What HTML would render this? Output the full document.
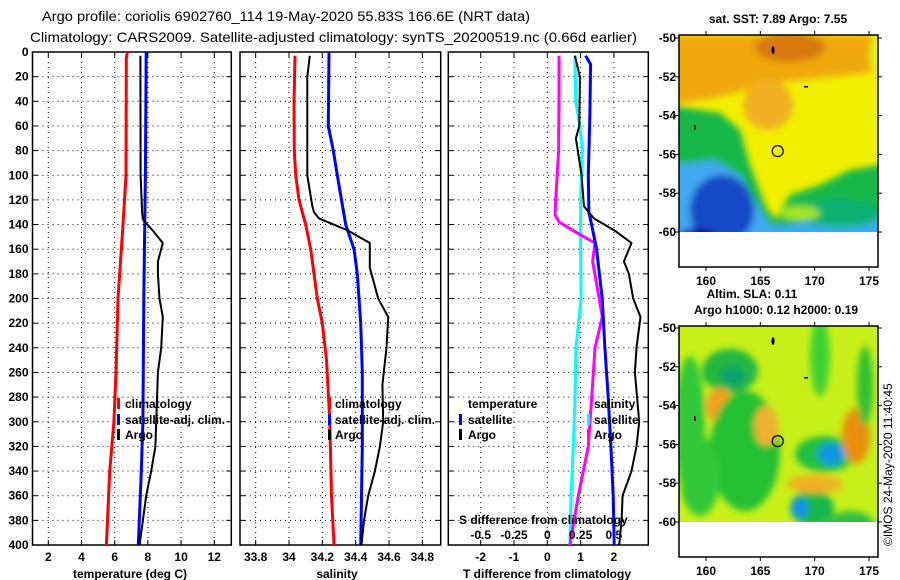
<!DOCTYPE html>
<html><head><meta charset="utf-8">
<style>
html,body{margin:0;padding:0;background:#fff;}
svg{display:block;font-family:"Liberation Sans",sans-serif;}
.tk{font-size:12px;font-weight:bold;fill:#000;}
.lg{font-size:12px;font-weight:bold;fill:#000;}
.tt{font-size:14px;fill:#000;}
</style></head>
<body>
<svg id="c" width="900" height="580" viewBox="0 0 900 580"></svg>
<script>
// ---- data ----
const depthTicks = [0,20,40,60,80,100,120,140,160,180,200,220,240,260,280,300,320,340,360,380,400];
const tempTicks = [2,4,6,8,10,12];
const salTicks = [33.8,34,34.2,34.4,34.6,34.8];
const tdiffTicks = [-2,-1,0,1,2];
const sdiffTicks = [-0.5,-0.25,0,0.25,0.5];
const sdiffTickLabels = ["-0.5","-0.25","0","0.25","0.5"];

const tClimDepth = [0,5,100,140,200,260,300,340,400];
const tClimVal   = [6.76,6.7,6.68,6.5,6.2,6.08,5.95,5.7,5.5];
const tSatDepth  = [0,100,200,300,340,400];
const tSatVal    = [7.9,7.85,7.75,7.7,7.6,7.42];
const tArgoDepth = [3,100,130,136,145,155,170,180,200,215,240,260,300,320,340,360,400];
const tArgoVal   = [7.55,7.56,7.65,7.7,8.3,8.9,8.6,8.6,8.7,8.9,8.8,8.6,8.5,8.45,8.2,7.9,7.5];

const sClimDepth = [3,40,80,100,120,140,160,200,220,250,300,360,400];
const sClimVal   = [34.036,34.03,34.032,34.04,34.06,34.1,34.13,34.17,34.2,34.225,34.245,34.255,34.27];
const sSatDepth  = [0,60,80,100,140,160,180,220,260,320,400];
const sSatVal    = [34.24,34.236,34.266,34.29,34.34,34.39,34.41,34.43,34.44,34.44,34.43];
const sArgoDepth = [3,20,100,125,130,135,145,155,175,200,215,240,270,300,320,340,360,380,400];
const sArgoVal   = [34.125,34.11,34.11,34.14,34.15,34.18,34.356,34.485,34.485,34.535,34.595,34.585,34.56,34.565,34.545,34.515,34.475,34.45,34.435];

const dtSatDepth = [3,10,50,100,130,140,160,200,240,280,320,360,400];
const dtSatVal   = [1.15,1.3,1.28,1.23,1.25,1.33,1.48,1.65,1.73,1.83,1.91,1.98,2.01];
const dtArgoDepth = [3,20,60,70,100,125,135,145,155,170,180,200,215,240,260,300,320,340,360,380,400];
const dtArgoVal   = [0.83,0.98,0.96,0.86,1.03,1.1,1.4,2.03,2.53,2.3,2.45,2.58,2.8,2.68,2.63,2.76,2.68,2.53,2.26,2.23,2.16];
const dsSatDepth = [3,40,60,80,120,160,200,240,280,320,360,400];
const dsSatVal   = [0.208,0.213,0.245,0.263,0.25,0.25,0.253,0.215,0.208,0.195,0.178,0.17];
const dsArgoDepth = [3,40,80,120,132,138,145,155,170,200,215,240,280,300,320,360,400];
const dsArgoVal   = [0.088,0.088,0.085,0.063,0.058,0.09,0.195,0.358,0.34,0.39,0.413,0.358,0.333,0.32,0.308,0.233,0.17];

const latTicks = [-50,-52,-54,-56,-58,-60];
const lonTicks = [160,165,170,175];
const profLon = 166.6, profLat = -55.83;

// ---- helpers ----
const NS="http://www.w3.org/2000/svg";
const svg=document.getElementById('c');
function mk(tag,attrs,parent){const e=document.createElementNS(NS,tag);for(const k in attrs)e.setAttribute(k,attrs[k]);(parent||svg).appendChild(e);return e;}
function txt(s,x,y,cls,anchor,parent){const e=mk('text',{x:x,y:y,class:cls,'text-anchor':anchor||'start'},parent);e.textContent=s;return e;}

const PT=52, PB=545;
const Y=d=>PT+d*(PB-PT)/400;
const XT=t=>48.3+(t-2)*16.6;
const XS=s=>289+(s-34)*166.7;
const XD=v=>547.3+v*33.3;
const XDS=v=>547.3+v*4*33.3;

function panel(name,x0,x1,ticks,xf,labels,showDepth){
  const g=mk('g',{});
  
  
  depthTicks.forEach(d=>{
    if(d>0&&d<400){const l=mk('line',{x1:x0,x2:x1,y1:Y(d),y2:Y(d),stroke:'#000','stroke-width':1,'stroke-dasharray':'1,4'},g);
      }
    mk('line',{x1:x0,x2:x0+5,y1:Y(d),y2:Y(d),stroke:'#000'},g);
    mk('line',{x1:x1-5,x2:x1,y1:Y(d),y2:Y(d),stroke:'#000'},g);
    if(showDepth){const t=txt(String(d),x0-4,Y(d)+4,'tk','end',g);}
  });
  ticks.forEach((v,i)=>{
    const x=xf(v);
    const l=mk('line',{x1:x,x2:x,y1:PT,y2:PB,stroke:'#000','stroke-width':1,'stroke-dasharray':'1,4'},g);
    
    mk('line',{x1:x,x2:x,y1:PB,y2:PB-5,stroke:'#000'},g);
    mk('line',{x1:x,x2:x,y1:PT,y2:PT+5,stroke:'#000'},g);
    const t=txt(labels?labels[i]:String(v),x,561,'tk','middle',g);
    
  });
  const r=mk('rect',{x:x0,y:PT,width:x1-x0,height:PB-PT,fill:'none',stroke:'#000','stroke-width':1.5},g);
  
  return g;
}
function series(name,ds,vs,xf,color,w){
  const pts=ds.map((d,i)=>xf(vs[i]).toFixed(1)+','+Y(d).toFixed(1)).join(' ');
  const p=mk('polyline',{points:pts,fill:'none',stroke:color,'stroke-width':w,'stroke-linejoin':'round'});
  
  
}
function leg(name,mx,tx,y,color,label){
  const g=mk('g',{});
  
  
  if(color)mk('rect',{x:mx,y:y-6,width:3,height:11,fill:color},g);
  txt(label,tx,y+4,'lg','start',g);
}

// titles
let t1=txt('Argo profile: coriolis 6902760_114 19-May-2020 55.83S 166.6E (NRT data)',42,21,'tt');
t1.setAttribute('textLength','488');t1.setAttribute('lengthAdjust','spacingAndGlyphs');

let t2=txt('Climatology: CARS2009. Satellite-adjusted climatology: synTS_20200519.nc (0.66d earlier)',30,42,'tt');
t2.setAttribute('textLength','607');t2.setAttribute('lengthAdjust','spacingAndGlyphs');


// panel 1
panel('temperature-panel',32.5,231.3,tempTicks,XT,null,true);
series('temperature-climatology-line',tClimDepth,tClimVal,XT,'#f00',3);
series('temperature-satellite-line',tSatDepth,tSatVal,XT,'#00f',3);
series('temperature-argo-line',tArgoDepth,tArgoVal,XT,'#000',2);
let a=txt('temperature (deg C)',130,578,'tk','middle');
leg('legend-climatology',117,125,404,'#f00','climatology');
leg('legend-satellite-adj',117,125,420,'#00f','satellite-adj. clim.');
leg('legend-argo',117,125,435,'#000','Argo');

// panel 2
panel('salinity-panel',240,440.7,salTicks,XS,null,false);
series('salinity-climatology-line',sClimDepth,sClimVal,XS,'#f00',3);
series('salinity-satellite-line',sSatDepth,sSatVal,XS,'#00f',3);
series('salinity-argo-line',sArgoDepth,sArgoVal,XS,'#000',2);
a=txt('salinity',337,578,'tk','middle');
leg('legend-climatology-s',328,335,404,'#f00','climatology');
leg('legend-satellite-adj-s',328,335,420,'#00f','satellite-adj. clim.');
leg('legend-argo-s',328,335,435,'#000','Argo');

// panel 3
panel('difference-panel',448.3,648.3,tdiffTicks,XD,null,false);
series('salinity-diff-satellite-line',dsSatDepth,dsSatVal,XDS,'#0ff',3);
series('salinity-diff-argo-line',dsArgoDepth,dsArgoVal,XDS,'#f0f',3);
series('temperature-diff-satellite-line',dtSatDepth,dtSatVal,XD,'#00f',3);
series('temperature-diff-argo-line',dtArgoDepth,dtArgoVal,XD,'#000',2);
a=txt('T difference from climatology',547,578,'tk','middle');
leg('legend-temperature-header',0,468,404,null,'temperature');
leg('legend-t-satellite',459,468,420,'#00f','satellite');
leg('legend-t-argo',459,468,435,'#000','Argo');
leg('legend-salinity-header',0,594,404,null,'salinity');
leg('legend-s-satellite',587,594,420,'#0ff','satellite');
leg('legend-s-argo',587,594,435,'#f0f','Argo');
a=txt('S difference from climatology',459,524,'tk','start');
sdiffTicks.forEach((v,i)=>{const e=txt(sdiffTickLabels[i],XDS(v),539,'tk','middle');
  });

// ---- maps ----
const MX0=679,MX1=878;
const LX=lon=>706+(lon-160)*(163/15);
function map(name,top,dataTop,dataBot,frameBot,blobs,base){
  const LY=lat=>dataTop+(-50-lat)*(dataBot-dataTop)/10;
  const g=mk('g',{});
  
  
  const id='clip'+top;
  const defs=mk('defs',{},g);
  const cp=mk('clipPath',{id:id},defs);
  mk('rect',{x:MX0,y:top,width:MX1-MX0,height:dataBot-top},cp);
  const f=mk('filter',{id:'bl'+top,x:'-50%',y:'-50%',width:'200%',height:'200%'},defs);
  mk('feGaussianBlur',{stdDeviation:3.5},f);
  const cg=mk('g',{'clip-path':'url(#'+id+')'},g);
  mk('rect',{x:MX0,y:top,width:MX1-MX0,height:dataBot-top,fill:base},cg);
  const bg=mk('g',{filter:'url(#bl'+top+')'},cg);
  blobs.forEach(b=>{
    if(b[0]==='e')mk('ellipse',{cx:b[1],cy:top+b[2],rx:b[3],ry:b[4],fill:b[5]},bg);
    else mk('polygon',{points:b[1].map((p,i)=>i%2?p+top:p).join(','),fill:b[2]},bg);
  });
  // islands
  mk('ellipse',{cx:773,cy:top+15,rx:1.5,ry:4,fill:'#000'},cg);
  mk('rect',{x:804,y:top+51,width:4,height:1.5,fill:'#000'},cg);
  mk('rect',{x:694,y:top+90,width:1.5,height:5,fill:'#000'},cg);
  const c=mk('circle',{cx:LX(profLon),cy:LY(profLat),r:5.5,fill:'none',stroke:'#000','stroke-width':1.2},g);
  
  mk('rect',{x:MX0,y:top,width:MX1-MX0,height:frameBot-top,fill:'none',stroke:'#000','stroke-width':1.5},g);
  latTicks.forEach(l=>{
    mk('line',{x1:MX0-4,x2:MX0,y1:LY(l),y2:LY(l),stroke:'#000'},g);
    mk('line',{x1:MX1,x2:MX1+4,y1:LY(l),y2:LY(l),stroke:'#000'},g);
    const e=txt(String(l),MX0-3,LY(l)+4,'tk','end',g);
    
  });
  lonTicks.forEach(l=>{
    mk('line',{x1:LX(l),x2:LX(l),y1:top-4,y2:top,stroke:'#000'},g);
    mk('line',{x1:LX(l),x2:LX(l),y1:frameBot,y2:frameBot+4,stroke:'#000'},g);
    const e=txt(String(l),LX(l),frameBot+18,'tk','middle',g);
    
  });
}
map('sst-map',35,38,232,267,[
  ['p',[670,0,890,0,890,35,850,40,800,45,760,50,720,62,670,70],'#f0a810'],
  ['e',790,12,35,15,'#d87808'],
  ['e',768,70,25,25,'#f0b020'],
  ['e',885,20,15,30,'#e8f010'],
  ['p',[670,70,720,78,740,95,750,130,765,170,775,185,790,160,820,150,850,135,880,130,890,130,890,250,670,250],'#18b848'],
  ['p',[670,130,715,125,740,140,755,165,770,190,790,190,830,180,890,180,890,250,670,250],'#40a8f0'],
  ['p',[770,195,890,190,890,250,770,250],'#30b0e8'],
  ['e',722,175,32,35,'#1848c8'],
  ['e',698,215,28,22,'#0808a0'],
  ['e',840,178,42,14,'#10b070'],
  ['e',800,178,20,7,'#a0e820']
],'#f0f000');
map('sla-map',326,328,522,557,[
  ['e',730,45,28,22,'#20b840'],['e',733,50,12,10,'#10a070'],
  ['e',720,80,14,18,'#f0a020'],
  ['e',745,125,35,60,'#20c030'],['e',700,150,20,40,'#30c838'],
  ['e',766,100,12,20,'#f0b030'],
  ['e',825,128,30,18,'#20c040'],['e',831,128,14,11,'#1098e0'],
  ['e',856,110,14,28,'#e89010'],
  ['e',812,182,22,18,'#18b848'],['e',800,182,8,10,'#1890e8'],
  ['e',815,158,28,9,'#f0b020'],
  ['e',865,60,8,40,'#30c030'],
  ['e',690,65,10,25,'#f0b018'],
  ['e',820,30,10,40,'#40d030'],
  ['e',850,200,25,15,'#30c040'],
  ['e',690,100,15,70,'#30c838']
],'#c8f018');

let m=txt('sat. SST: 7.89 Argo: 7.55',778,23,'tk','middle');
m=txt('Altim. SLA: 0.11',752,298,'tk','middle');
m=txt('Argo h1000: 0.12 h2000: 0.19',776,314,'tk','middle');
m=mk('text',{x:0,y:0,transform:'translate(892,546) rotate(-90)',style:'font-size:12px'});
m.textContent='©IMOS 24-May-2020 11:40:45';

</script>
</body></html>
